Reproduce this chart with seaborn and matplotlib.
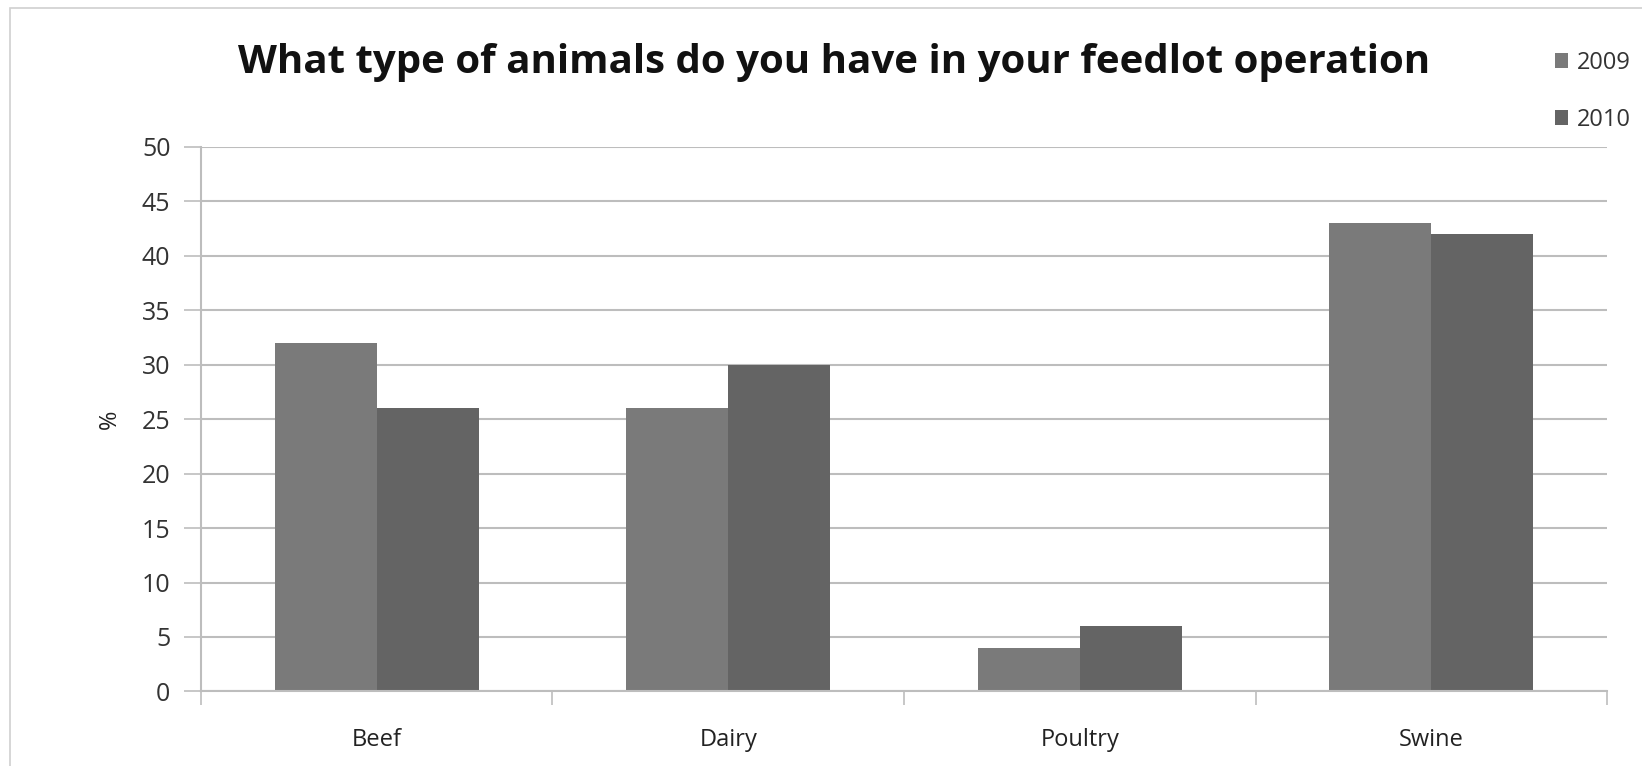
import matplotlib
matplotlib.use("Agg")
import matplotlib.pyplot as plt
import seaborn as sns
import pandas as pd
from matplotlib.patches import Rectangle

categories = ["Beef", "Dairy", "Poultry", "Swine"]
years = ["2009", "2010"]
values_2009 = [32, 26, 4, 43]
values_2010 = [26, 30, 6, 42]
yticks = [0, 5, 10, 15, 20, 25, 30, 35, 40, 45, 50]

df = pd.DataFrame({
    "category": categories * 2,
    "year": [years[0]] * 4 + [years[1]] * 4,
    "value": values_2009 + values_2010,
})

sns.set_theme(style="white")
plt.rcParams["font.family"] = ["Open Sans", "DejaVu Sans"]

fig = plt.figure(figsize=(16.42, 7.66), dpi=100)
ax = fig.add_axes([0.1224, 0.0973, 0.8563, 0.7112])

palette = {"2009": "#7a7a7a", "2010": "#646464"}
sns.barplot(data=df, x="category", y="value", hue="year", order=categories,
            hue_order=years, palette=palette, width=0.58, saturation=1,
            ax=ax, legend=True, edgecolor="none", linewidth=0)

ax.set_ylim(0, 50)
ax.set_xlim(-0.5, 3.5)
ax.set_yticks(yticks)
ax.set_yticklabels([str(t) for t in yticks], fontsize=18, color="#333333")
ax.yaxis.grid(True, color="#bdbdbd", linewidth=1.5)
ax.set_axisbelow(True)
ax.tick_params(axis="y", length=12, width=1.2, color="#bdbdbd", pad=10, left=True)
ax.tick_params(axis="x", which="major", length=0, pad=26, labelsize=17, labelcolor="#222222")
ax.set_xticks([-0.5, 0.5, 1.5, 2.5, 3.5], minor=True)
ax.tick_params(axis="x", which="minor", length=10, width=1.2, color="#bdbdbd", bottom=True)
ax.set_xlabel("")
ax.set_ylabel("%", fontsize=17, color="#222222", labelpad=14)

for side in ["top", "right"]:
    ax.spines[side].set_visible(False)
for side in ["left", "bottom"]:
    ax.spines[side].set_color("#bdbdbd")
    ax.spines[side].set_linewidth(1.5)

leg = ax.legend(loc="upper left", bbox_to_anchor=(0.948, 1.215), frameon=False,
                fontsize=17, handlelength=0.55, handleheight=0.55, handletextpad=0.35,
                labelspacing=1.4)
for t in leg.get_texts():
    t.set_color("#333333")

fig.text(0.508, 0.918, "What type of animals do you have in your feedlot operation",
         ha="center", va="center", fontsize=29, fontweight="bold", color="#111111")

fig.patches.append(Rectangle((0.006, -0.01), 1.0, 1.0, transform=fig.transFigure,
                             fill=False, edgecolor="#d0d0d0", linewidth=1.2))

fig.savefig("out.png", dpi=100, facecolor="white")
